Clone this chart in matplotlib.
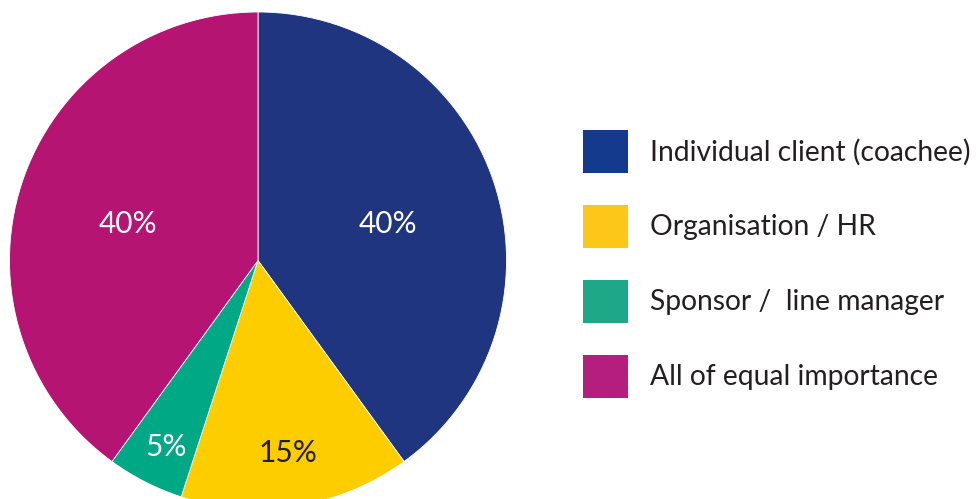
import matplotlib
matplotlib.use("Agg")
import numpy as np
import matplotlib.pyplot as plt
from matplotlib.patches import Patch

# who the coaching is primarily for
categories = ["Individual client (coachee)", "Organisation / HR",
              "Sponsor /  line manager", "All of equal importance"]
shares = [40, 15, 5, 40]
slice_colors = ["#1f3580", "#fdcd00", "#00a886", "#b51472"]
legend_colors = ["#133a8c", "#fcc719", "#1fa888", "#b41f7e"]
label_colors = ["white", "#231f20", "white", "white"]
label_dist = [0.55, 0.76, 0.815, 0.55]

plt.rcParams["font.family"] = ["Lato", "DejaVu Sans"]

W, H = 976, 499
fig = plt.figure(figsize=(W / 100, H / 100), dpi=100)

# pie centre and radius in pixels
cx, cy, r = 258, 260.5, 248.5
ax = fig.add_axes([(cx - r) / W, (H - cy - r) / H, 2 * r / W, 2 * r / H])

wedges, _ = ax.pie(shares, colors=slice_colors, startangle=90, counterclock=False,
                   radius=1, wedgeprops=dict(linewidth=0.6, edgecolor="white"))
# pie() widens the limits, so set them back to the unit circle
ax.set_xlim(-1, 1)
ax.set_ylim(-1, 1)
ax.set_aspect("equal")
ax.axis("off")

for w, v, c, d in zip(wedges, shares, label_colors, label_dist):
    ang = np.deg2rad((w.theta1 + w.theta2) / 2)
    ax.text(d * np.cos(ang), d * np.sin(ang) - 0.015, f"{v}%", color=c,
            ha="center", va="center_baseline", fontsize=21.5)

handles = [Patch(facecolor=c, edgecolor="none") for c in legend_colors]
fs = 20.3
leg = fig.legend(handles, categories, loc="upper left",
                 bbox_to_anchor=(577.4 / W, 1 - 124.4 / H),
                 frameon=False, fontsize=fs, handlelength=1.6, handleheight=1.97,
                 handletextpad=0.78, labelspacing=1.13, borderaxespad=0,
                 borderpad=0.2)
for t in leg.get_texts():
    t.set_color("#231f20")

fig.savefig("out.png", dpi=100)
